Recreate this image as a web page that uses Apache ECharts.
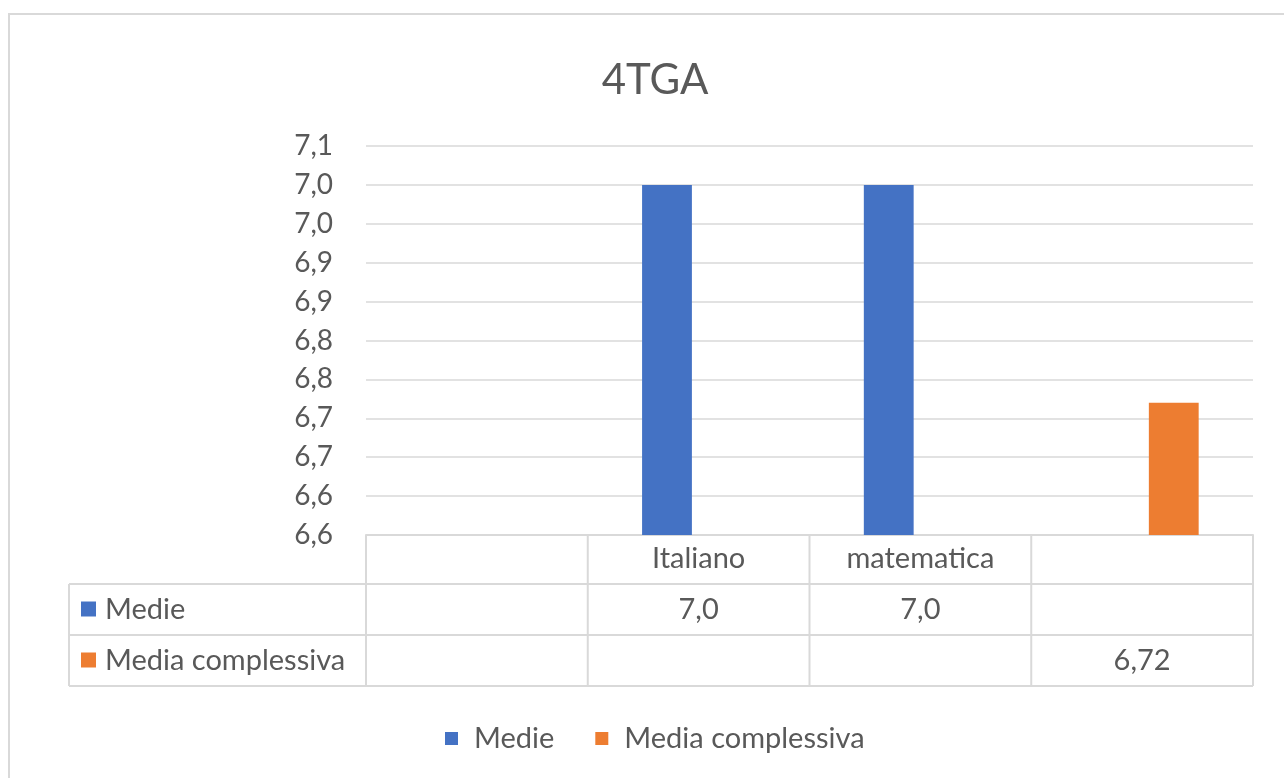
<!DOCTYPE html>
<html>
<head>
<meta charset="utf-8">
<script src="https://cdn.jsdelivr.net/npm/echarts@6/dist/echarts.min.js"></script>
<style>
html,body{margin:0;padding:0;background:#fff;}
#chart{width:1284px;height:778px;}
</style>
</head>
<body>
<div id="chart"></div>
<script>
// data
var categories = ['', 'Italiano', 'matematica', ''];
var medie = [null, 7.0, 7.0, null];
var mediaComplessiva = [null, null, null, 6.72];
var medieLabels = ['', '7,0', '7,0', ''];
var complessivaLabels = ['', '', '', '6,72'];
var seriesNames = ['Medie', 'Media complessiva'];
var yTickLabels = ['6,6', '6,6', '6,7', '6,7', '6,8', '6,8', '6,9', '6,9', '7,0', '7,0', '7,1'];
var yMin = 6.55, yMax = 7.05, yStep = 0.05;

var colors = ['#4472C4', '#ED7D31'];
var txt = '#595959';
var lineC = '#d9d9d9';
var font = 'Lato, Calibri, Carlito, sans-serif';
var fs = 29;

// layout of the plot + data table
var W = 1284, H = 778;
var gL = 366, gR = 1253, gT = 146, gB = 535;
var rowTop = [535, 584, 635, 686];
var tableLeft = 69;

var myChart = echarts.init(document.getElementById('chart'));

function tableGraphics() {
    var band = (gR - gL) / categories.length;
    var g = [];
    // outer chart border
    g.push({type: 'rect', shape: {x: 9, y: 14, width: W, height: H}, style: {fill: 'none', stroke: lineC, lineWidth: 2}, silent: true});
    // horizontal lines
    for (var r = 1; r < rowTop.length; r++) {
        g.push({type: 'line', shape: {x1: tableLeft, y1: rowTop[r], x2: gR, y2: rowTop[r]}, style: {stroke: lineC, lineWidth: 2}});
    }
    // vertical lines
    for (var i = 0; i <= categories.length; i++) {
        var x = gL + i * band;
        g.push({type: 'line', shape: {x1: x, y1: rowTop[0], x2: x, y2: rowTop[3]}, style: {stroke: lineC, lineWidth: 2}});
    }
    g.push({type: 'line', shape: {x1: tableLeft, y1: rowTop[1], x2: tableLeft, y2: rowTop[3]}, style: {stroke: lineC, lineWidth: 2}});
    // row headers with keys
    var rowLabels = [medieLabels, complessivaLabels];
    for (var s = 0; s < seriesNames.length; s++) {
        var cy = (rowTop[s + 1] + rowTop[s + 2]) / 2;
        g.push({type: 'rect', shape: {x: 81, y: cy - 8, width: 15, height: 15}, style: {fill: colors[s]}});
        g.push({type: 'text', x: 105, y: cy, style: {text: seriesNames[s], fill: txt, font: fs + 'px ' + font, textVerticalAlign: 'middle'}});
        for (var c = 0; c < categories.length; c++) {
            if (!rowLabels[s][c]) continue;
            g.push({type: 'text', x: gL + (c + 0.5) * band, y: cy, style: {text: rowLabels[s][c], fill: txt, font: fs + 'px ' + font, textAlign: 'center', textVerticalAlign: 'middle'}});
        }
    }
    return g;
}

var option = {
    animation: false,
    backgroundColor: '#fff',
    title: {
        text: '4TGA',
        left: 650,
        textAlign: 'center',
        top: 54,
        textStyle: {fontFamily: font, fontSize: 42, fontWeight: 'normal', color: txt}
    },
    legend: {
        data: seriesNames,
        left: 440,
        top: 719,
        icon: 'rect',
        itemWidth: 13,
        itemHeight: 13,
        itemGap: 41,
        textStyle: {fontFamily: font, fontSize: fs, color: txt, padding: [0, 0, 0, 11]}
    },
    grid: {left: gL, right: W - gR, top: gT, bottom: H - gB, containLabel: false},
    xAxis: {
        type: 'category',
        data: categories,
        axisLine: {lineStyle: {color: lineC, width: 2}},
        axisTick: {show: false},
        axisLabel: {interval: 0, fontFamily: font, fontSize: fs, color: txt, margin: 24, verticalAlign: 'middle'}
    },
    yAxis: {
        type: 'value',
        min: yMin,
        max: yMax,
        interval: yStep,
        axisLine: {show: false},
        axisTick: {show: false},
        splitLine: {lineStyle: {color: lineC, width: 1.5}},
        axisLabel: {
            margin: 33,
            fontFamily: font,
            fontSize: 28,
            color: txt,
            formatter: function (v) {
                return yTickLabels[Math.round((v - yMin) / yStep)];
            }
        }
    },
    series: [{
        name: seriesNames[0],
        type: 'bar',
        data: medie,
        itemStyle: {color: colors[0]},
        barGap: '27%',
        barCategoryGap: '49%'
    }, {
        name: seriesNames[1],
        type: 'bar',
        data: mediaComplessiva,
        itemStyle: {color: colors[1]},
        barGap: '27%',
        barCategoryGap: '49%'
    }],
    graphic: tableGraphics()
};
myChart.setOption(option);
</script>
</body>
</html>
